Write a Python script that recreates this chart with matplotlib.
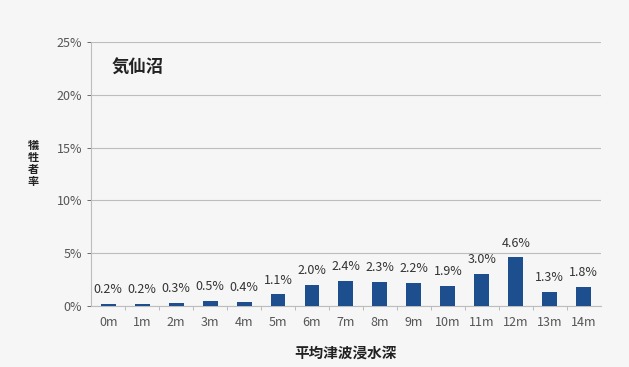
import matplotlib.pyplot as plt
import numpy as np

plt.rcParams['font.family'] = ['Noto Sans CJK JP', 'DejaVu Sans']

# data
depths = ['0m', '1m', '2m', '3m', '4m', '5m', '6m', '7m', '8m', '9m', '10m', '11m', '12m', '13m', '14m']
rates = [0.2, 0.2, 0.3, 0.5, 0.4, 1.1, 2.0, 2.4, 2.3, 2.2, 1.9, 3.0, 4.6, 1.3, 1.8]
yticks = [0, 5, 10, 15, 20, 25]

fig = plt.figure(figsize=(6.29, 3.67), dpi=100, facecolor='#f6f6f6')
ax = fig.add_axes([0.145, 0.166, 0.81, 0.72])
ax.set_facecolor('#f6f6f6')

x = np.arange(len(depths))
ax.bar(x, rates, width=0.44, color='#1d4f8f', zorder=3)

for xi, v in zip(x, rates):
    ax.text(xi, v + 0.75, '{:.1f}%'.format(v), ha='center', va='bottom',
            fontsize=9, color='#333333')

ax.set_xlim(-0.5, len(depths) - 0.5)
ax.set_ylim(0, 25)
ax.set_yticks(yticks)
ax.set_yticklabels(['{}%'.format(t) for t in yticks])
ax.set_xticks(x)
ax.set_xticklabels(depths)
ax.set_xticks(x[:-1] + 0.5, minor=True)
ax.tick_params(axis='both', labelsize=9, colors='#555555', length=3, width=0.6)
ax.tick_params(axis='x', which='major', length=0, pad=7)
ax.tick_params(axis='x', which='minor', length=3, width=0.6, colors='#b0b0b0')
ax.yaxis.grid(True, color='#bdbdbd', lw=0.8, zorder=0)

for s in ['top', 'right']:
    ax.spines[s].set_visible(False)
ax.spines['left'].set_color('#bdbdbd')
ax.spines['bottom'].set_color('#bdbdbd')

ax.text(0.04, 0.935, '気仙沼', transform=ax.transAxes, fontsize=12.5,
        fontweight='bold', ha='left', va='top', color='#222222')

fig.text(0.053, 0.555, '犠\n牲\n者\n率', fontsize=8, fontweight='bold',
         ha='center', va='center', linespacing=0.9, color='#222222')
fig.text(0.55, 0.04, '平均津波浸水深', fontsize=10.5, fontweight='bold',
         ha='center', va='center', color='#222222')

fig.savefig('out.png', dpi=100, facecolor=fig.get_facecolor())
